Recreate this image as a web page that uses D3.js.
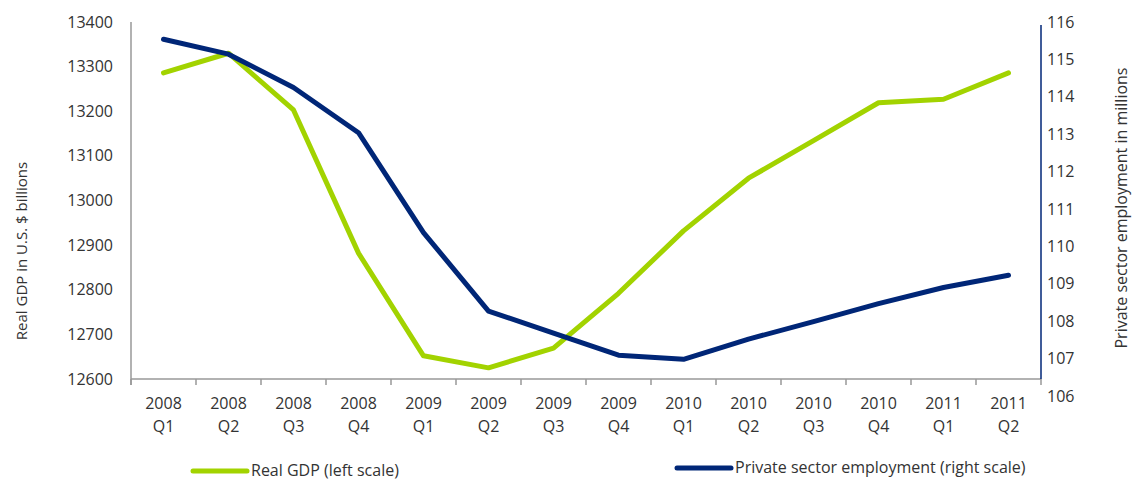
<!DOCTYPE html>
<html>
<head>
<meta charset="utf-8">
<script src="https://cdn.jsdelivr.net/npm/d3@7"></script>
<style>
  html, body { margin: 0; padding: 0; background: #fff; }
  svg text { font-family: "Open Sans", "Noto Sans", sans-serif; fill: #333; }
</style>
</head>
<body>
<svg id="chart" width="1142" height="481"></svg>
<script>
// Quarterly periods
const years = ["2008","2008","2008","2008","2009","2009","2009","2009","2010","2010","2010","2010","2011","2011"];
const quarters = ["Q1","Q2","Q3","Q4","Q1","Q2","Q3","Q4","Q1","Q2","Q3","Q4","Q1","Q2"];

// Real GDP, U.S. $ billions (left scale)
const gdp = [13286, 13330, 13203, 12882, 12652, 12625, 12669, 12792, 12932, 13050, 13134, 13219, 13227, 13286];

// Private sector employment, millions (right scale)
const employment = [115.54, 115.14, 114.25, 113.04, 110.37, 108.27, 107.68, 107.09, 106.98, 107.52, 107.99, 108.47, 108.90, 109.23];

const leftTicks = [12600, 12700, 12800, 12900, 13000, 13100, 13200, 13300, 13400];
const rightTicks = [106, 107, 108, 109, 110, 111, 112, 113, 114, 115, 116];

const green = "#a2d300";
const navy = "#002677";

const svg = d3.select("#chart");
const plot = { left: 131, right: 1041, top: 22, bottom: 379 };

const periods = years.map((y, i) => i);
const x = d3.scaleBand().domain(periods).range([plot.left, plot.right]).padding(0);
const yL = d3.scaleLinear().domain([12600, 13400]).range([plot.bottom, plot.top]);
const yR = d3.scaleLinear().domain([106, 116]).range([396, plot.top]);

// Bottom axis with boundary ticks
const xAxis = svg.append("g");
xAxis.append("line")
  .attr("x1", plot.left).attr("x2", plot.right)
  .attr("y1", plot.bottom).attr("y2", plot.bottom)
  .attr("stroke", "#999").attr("stroke-width", 1.5);
const bounds = periods.map(i => x(i)).concat([plot.right]);
xAxis.selectAll("line.tick").data(bounds).join("line")
  .attr("class", "tick")
  .attr("x1", d => d).attr("x2", d => d)
  .attr("y1", plot.bottom).attr("y2", plot.bottom + 6)
  .attr("stroke", "#999").attr("stroke-width", 1.5);
const xl = xAxis.selectAll("text.cat").data(periods).join("text")
  .attr("class", "cat")
  .attr("text-anchor", "middle")
  .attr("font-size", 16)
  .attr("x", i => x(i) + x.bandwidth() / 2);
xl.append("tspan").attr("y", 409).attr("x", i => x(i) + x.bandwidth() / 2).text(i => years[i]);
xl.append("tspan").attr("y", 432).attr("x", i => x(i) + x.bandwidth() / 2).text(i => quarters[i]);

// Left axis
svg.append("line")
  .attr("x1", plot.left).attr("x2", plot.left)
  .attr("y1", plot.top).attr("y2", plot.bottom + 6)
  .attr("stroke", "#999").attr("stroke-width", 1.5);
svg.append("g").selectAll("text").data(leftTicks).join("text")
  .attr("x", 113).attr("y", d => yL(d))
  .attr("dy", "0.35em")
  .attr("text-anchor", "end")
  .attr("font-size", 16)
  .text(d => d);

// Right axis
svg.append("line")
  .attr("x1", plot.right).attr("x2", plot.right)
  .attr("y1", 25).attr("y2", plot.bottom)
  .attr("stroke", navy).attr("stroke-width", 1.5);
svg.append("g").selectAll("text").data(rightTicks).join("text")
  .attr("x", 1047).attr("y", d => yR(d))
  .attr("dy", "0.35em")
  .attr("text-anchor", "start")
  .attr("font-size", 16)
  .text(d => d);

// Axis titles
svg.append("text")
  .attr("transform", "translate(27,251) rotate(-90)")
  .attr("text-anchor", "middle")
  .attr("font-size", 15)
  .text("Real GDP in U.S. $ billions");
svg.append("text")
  .attr("transform", "translate(1127,208) rotate(-90)")
  .attr("text-anchor", "middle")
  .attr("font-size", 16)
  .text("Private sector employment in millions");

// Series lines
const cx = i => x(i) + x.bandwidth() / 2;
svg.append("path")
  .datum(gdp)
  .attr("fill", "none").attr("stroke", green)
  .attr("stroke-width", 5).attr("stroke-linecap", "round").attr("stroke-linejoin", "round")
  .attr("d", d3.line().x((d, i) => cx(i)).y(d => yL(d)));
svg.append("path")
  .datum(employment)
  .attr("fill", "none").attr("stroke", navy)
  .attr("stroke-width", 5).attr("stroke-linecap", "round").attr("stroke-linejoin", "round")
  .attr("d", d3.line().x((d, i) => cx(i)).y(d => yR(d)));

// Legend
const legend = [
  { label: "Real GDP (left scale)", color: green, x: 193, y: 471 },
  { label: "Private sector employment (right scale)", color: navy, x: 677, y: 468 }
];
const lg = svg.append("g").selectAll("g").data(legend).join("g");
lg.append("line")
  .attr("x1", d => d.x).attr("x2", d => d.x + 54)
  .attr("y1", d => d.y).attr("y2", d => d.y)
  .attr("stroke", d => d.color).attr("stroke-width", 5).attr("stroke-linecap", "round");
lg.append("text")
  .attr("x", d => d.x + 58).attr("y", d => d.y)
  .attr("dy", "0.32em")
  .attr("font-size", 16)
  .text(d => d.label);
</script>
</body>
</html>
